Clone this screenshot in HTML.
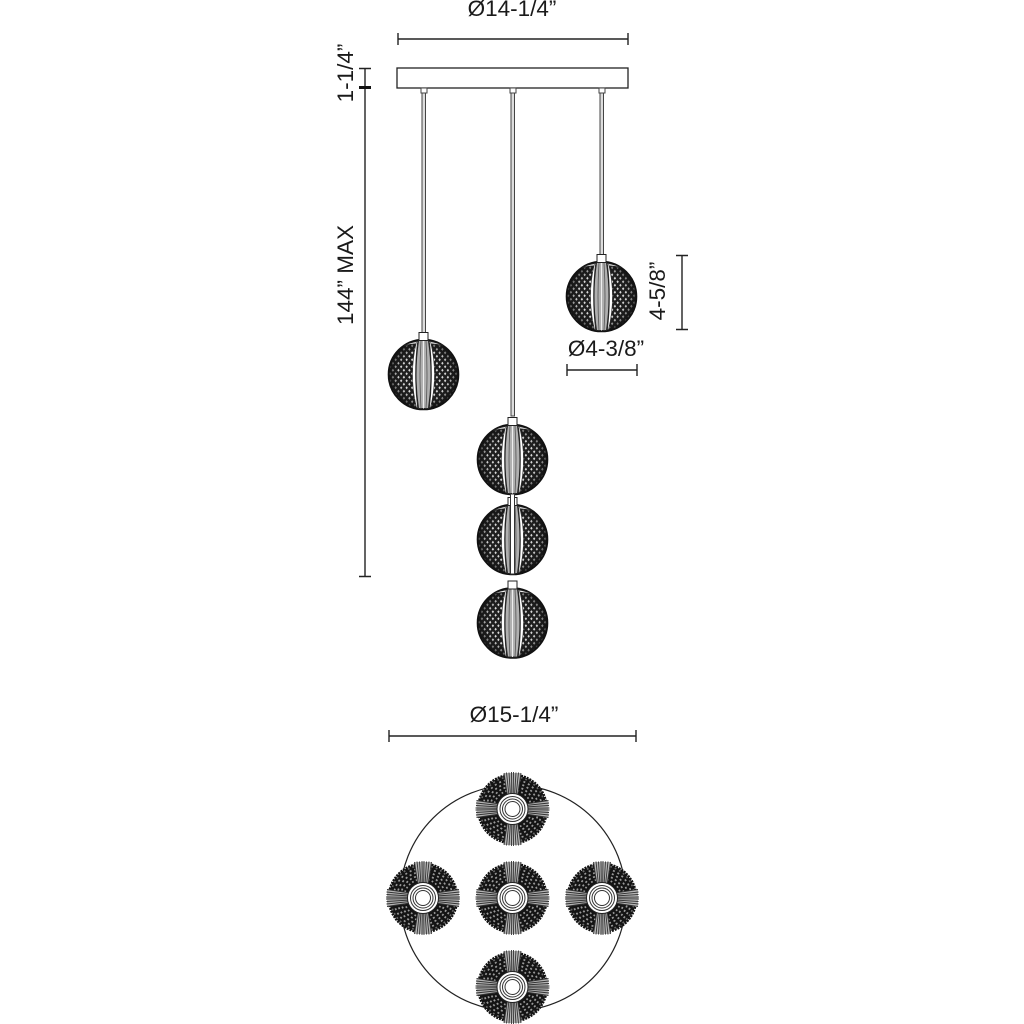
<!DOCTYPE html>
<html><head><meta charset="utf-8"><style>
html,body{margin:0;padding:0;background:#fff}
svg{display:block}
text{font-family:"Liberation Sans",sans-serif;font-size:22.5px;fill:#1a1a1a}
</style></head><body>
<svg width="1024" height="1024" viewBox="0 0 1024 1024" xmlns="http://www.w3.org/2000/svg">
<defs>
<pattern id="mesh" width="5.500" height="7" patternUnits="userSpaceOnUse" patternTransform="translate(1 1)">
<rect width="5.500" height="7" fill="#1f1f1f"/>
<path d="M1.400 .2L2.600 1.750L1.400 3.300L.2 1.750ZM4.150 3.700L5.350 5.250L4.150 6.800L2.950 5.250Z" fill="#d8d8d8"/>
</pattern>
<radialGradient id="edge" cx="50%" cy="50%" r="50%">
<stop offset="0.7" stop-color="#111" stop-opacity="0"/>
<stop offset="0.92" stop-color="#111" stop-opacity=".55"/>
<stop offset="1" stop-color="#111" stop-opacity=".95"/>
</radialGradient>
<g id="globe">
<circle r="35" fill="url(#mesh)"/>
<circle r="35" fill="url(#edge)" stroke="#111" stroke-width="1.600"/>
<path d="M-20-29Q0-38 20-29Q0-33-20-29Z" fill="#f2f2f2" stroke="#222" stroke-width=".8"/>
<path d="M-7-33Q-15 0-7 33L-6 33Q-10 0-6-33Z" fill="#fff" stroke="#333" stroke-width=".6"/>
<path d="M7-33Q15 0 7 33L6 33Q10 0 6-33Z" fill="#fff" stroke="#333" stroke-width=".6"/>
<path d="M-5-34Q-10 0-5 34L5 34Q10 0 5-34Z" fill="#b0b0b0" stroke="#222" stroke-width="1"/>
<path d="M-2.500-34Q-4.500 0-2.500 34M2.500-34Q4.500 0 2.500 34" fill="none" stroke="#555" stroke-width=".8"/>
<path d="M0-34V34" fill="none" stroke="#eee" stroke-width="1"/>
<rect x="-4.500" y="-42" width="9" height="8" fill="#fff" stroke="#222" stroke-width="1"/>
</g>
<g id="top">
<circle r="34" fill="#141414"/>
<g fill="none" stroke="#9a9a9a" stroke-width="1.700">
<circle r="19" stroke-dasharray="1.700 2.400"/>
<circle r="22.500" stroke-dasharray="2 2.600"/>
<circle r="26" stroke-dasharray="2 2.800" stroke-dashoffset="2"/>
<circle r="29.500" stroke-dasharray="2 3" />
<circle r="32.500" stroke-dasharray="1.800 3" stroke-dashoffset="2" stroke="#666"/>
</g>
<circle r="34.500" fill="none" stroke="#111" stroke-width="2" stroke-dasharray="2 1"/>
<g id="wedge">
<path d="M-8.500-36L-5-13L5-13L8.500-36Z" fill="#b4b4b4"/>
<path d="M-8.500-36L-5-13M-6-36.500L-3.500-13M-3.500-36.500L-2-13M-1-37L-.7-13M1-37L.7-13M3.500-36.500L2-13M6-36.500L3.500-13M8.500-36L5-13" stroke="#333" stroke-width=".9" fill="none"/>
</g>
<use href="#wedge" transform="rotate(90)"/>
<use href="#wedge" transform="rotate(180)"/>
<use href="#wedge" transform="rotate(270)"/>
<circle r="15.500" fill="#fff" stroke="#222" stroke-width="1"/>
<circle r="12.500" fill="none" stroke="#333" stroke-width="1"/>
<circle r="10" fill="none" stroke="#333" stroke-width="1"/>
<circle r="7.500" fill="#fff" stroke="#333" stroke-width="1"/>
</g>
</defs>

<!-- canopy -->
<rect x="397" y="68" width="231" height="20" fill="#fff" stroke="#222" stroke-width="1.300"/>
<g fill="#ddd" stroke="#444" stroke-width="1">
<rect x="421" y="88" width="6" height="5" fill="#fff"/><rect x="510" y="88" width="6" height="5" fill="#fff"/><rect x="599" y="88" width="6" height="5" fill="#fff"/>
<rect x="422" y="93" width="3.500" height="243"/>
<rect x="511" y="93" width="3.500" height="323"/>
<rect x="600" y="93" width="3.500" height="162"/>
</g>

<use href="#globe" x="601.500" y="296.500"/>
<use href="#globe" x="423.500" y="374.500"/>
<use href="#globe" x="512.500" y="459.500"/>
<use href="#globe" x="512.500" y="539.500"/>
<use href="#globe" x="512.500" y="623"/>
<rect x="510.500" y="494" width="4" height="80" fill="#fff" stroke="#333" stroke-width="1"/>

<!-- dimensions -->
<g stroke="#222" stroke-width="1.400" fill="none">
<path d="M398 33V45M398 39H628M628 33V45"/>
<path d="M359 68.500H371M365 68V88M359 576.500H371M365 88V577"/>
<path d="M676 255.500H688M682 255V329M676 329.500H688"/>
<path d="M567 364V376M567 370H637M637 364V376"/>
<path d="M389 730V742M389 736H636M636 730V742"/>
</g>
<rect x="359" y="86" width="12" height="3" fill="#111"/>

<text x="512" y="16" text-anchor="middle">Ø14-1/4”</text>
<text x="606" y="356" text-anchor="middle">Ø4-3/8”</text>
<text x="514" y="722" text-anchor="middle">Ø15-1/4”</text>
<text transform="translate(353 73) rotate(-90)" text-anchor="middle">1-1/4”</text>
<text transform="translate(353 275) rotate(-90)" text-anchor="middle">144” MAX</text>
<text transform="translate(665 291) rotate(-90)" text-anchor="middle">4-5/8”</text>

<!-- plan view -->
<circle cx="513" cy="898" r="113" fill="none" stroke="#222" stroke-width="1.200"/>
<use href="#top" x="512.500" y="809"/>
<use href="#top" x="423" y="898"/>
<use href="#top" x="512.500" y="898"/>
<use href="#top" x="602" y="898"/>
<use href="#top" x="512.500" y="987"/>
</svg>
</body></html>
